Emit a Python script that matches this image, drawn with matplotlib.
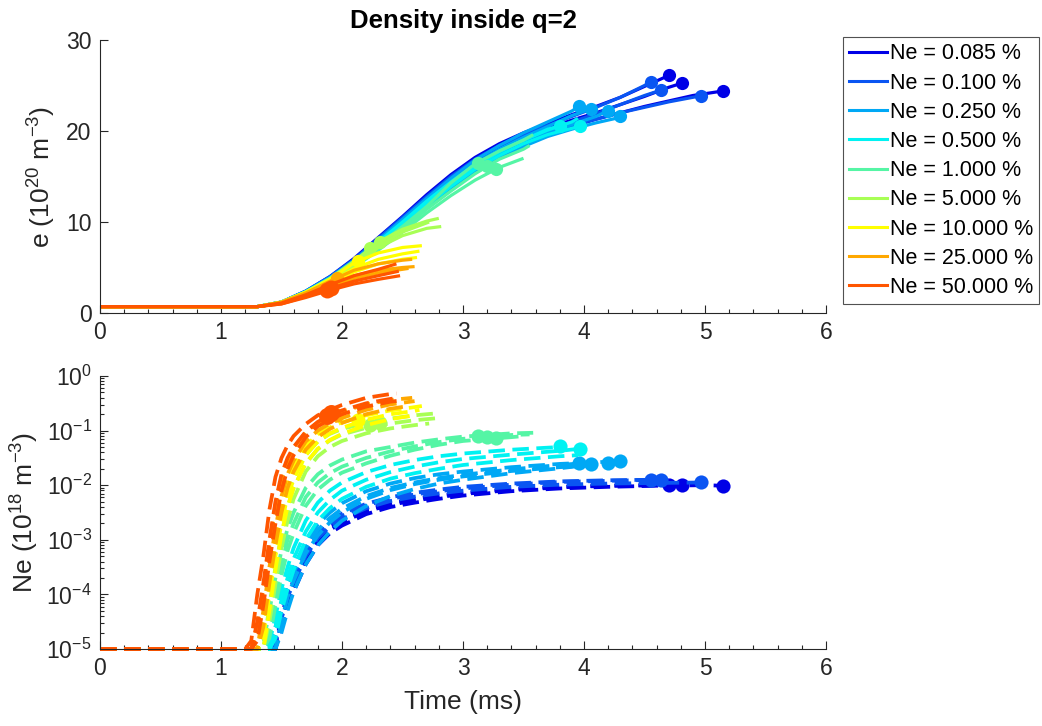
import matplotlib
matplotlib.use("Agg")
import matplotlib.pyplot as plt
from matplotlib.lines import Line2D
from matplotlib.ticker import MultipleLocator, FixedLocator, LogLocator, NullFormatter

plt.rcParams['font.family'] = ['Liberation Sans', 'DejaVu Sans']
plt.rcParams['mathtext.fontset'] = 'custom'
plt.rcParams['mathtext.rm'] = 'Liberation Sans'
plt.rcParams['mathtext.it'] = 'Liberation Sans:italic'
plt.rcParams['mathtext.bf'] = 'Liberation Sans:bold'

# ---------------------------------------------------------------- data
LABELS = ["Ne = 0.085 %", "Ne = 0.100 %", "Ne = 0.250 %", "Ne = 0.500 %",
          "Ne = 1.000 %", "Ne = 5.000 %", "Ne = 10.000 %", "Ne = 25.000 %",
          "Ne = 50.000 %"]
COLORS = ["#0000E6", "#0A55F2", "#00A8F5", "#00F2F2", "#55F5A5",
          "#A8FF55", "#FFFF00", "#FFA800", "#FF5500"]

# time grids (ms) for electron density (top) and neon density (bottom)
T_E = [0.0, 1.3, 1.5, 1.7, 1.9, 2.1, 2.3, 2.5, 2.7, 2.9, 3.1, 3.3, 3.5, 3.7,
       3.9, 4.1, 4.3, 4.5, 4.7, 4.9, 5.1]
T_N = [0.0, 1.2, 1.25, 1.3, 1.35, 1.4, 1.45, 1.5, 1.55, 1.6, 1.7, 1.8, 1.9,
       2.0, 2.2, 2.4, 2.6, 2.8, 3.0, 3.4, 3.8, 4.2, 4.6, 5.0]

# ---- Ne = 0.085 %
G085_T_END = [5.16, 4.82, 4.72]
G085_E = [[0.7, 0.7, 1.1, 2.1, 3.5, 5.3, 7.4, 9.6, 11.9, 14.1, 16.0, 17.5, 18.7, 19.7, 20.5, 21.3, 22.0, 22.7, 23.3, 23.9, 24.3],
          [0.7, 0.7, 1.1, 2.2, 3.7, 5.6, 7.8, 10.1, 12.5, 14.7, 16.6, 18.1, 19.3, 20.3, 21.2, 22.0, 22.9, 23.8, 24.8],
          [0.7, 0.7, 1.2, 2.4, 4.0, 6.0, 8.3, 10.6, 13.0, 15.2, 17.1, 18.6, 19.8, 20.8, 21.8, 22.7, 23.7, 24.9, 26.1]]
G085_E_END = [24.4, 25.3, 26.3]
G085_N = [[-5, -5, -5, -5, -5, -5, -5, -4.6, -4.2, -3.95, -3.45, -3.1, -2.88, -2.74, -2.53, -2.40, -2.32, -2.25, -2.19, -2.11, -2.06, -2.03, -2.01, -2.0],
          [-5, -5, -5, -5, -5, -5, -5, -4.5, -4.1, -3.85, -3.37, -3.03, -2.82, -2.68, -2.48, -2.36, -2.28, -2.22, -2.16, -2.09, -2.04, -2.01, -2.0],
          [-5, -5, -5, -5, -5, -5, -4.95, -4.4, -4.0, -3.75, -3.3, -2.97, -2.77, -2.64, -2.45, -2.33, -2.25, -2.19, -2.14, -2.07, -2.03, -2.01, -2.0]]
G085_N_END = [-2.01, -2.0, -2.0]
G085_MK_T = [5.15, 4.81, 4.70]
G085_MK_E = [24.4, 25.3, 26.2]
G085_MK_N = [-2.01, -2.0, -2.0]

# ---- Ne = 0.100 %
G100_T_END = [4.98, 4.66, 4.57]
G100_E = [[0.7, 0.7, 1.1, 2.2, 3.6, 5.4, 7.5, 9.7, 12.0, 14.2, 16.1, 17.6, 18.8, 19.8, 20.6, 21.3, 22.0, 22.6, 23.2, 23.7],
          [0.7, 0.7, 1.1, 2.3, 3.8, 5.7, 7.9, 10.2, 12.5, 14.6, 16.4, 17.9, 19.1, 20.1, 21.0, 21.9, 22.9, 23.9],
          [0.7, 0.7, 1.2, 2.4, 4.0, 5.9, 8.2, 10.5, 12.8, 15.0, 16.9, 18.4, 19.6, 20.6, 21.6, 22.6, 23.7, 25.0]]
G100_E_END = [23.9, 24.6, 25.6]
G100_N = [[-5, -5, -5, -5, -5, -5, -4.9, -4.45, -4.05, -3.8, -3.3, -2.97, -2.76, -2.62, -2.42, -2.29, -2.21, -2.15, -2.10, -2.03, -1.99, -1.97, -1.96],
          [-5, -5, -5, -5, -5, -5, -4.85, -4.35, -3.95, -3.7, -3.22, -2.9, -2.7, -2.56, -2.37, -2.25, -2.17, -2.11, -2.06, -1.99, -1.94, -1.92, -1.90],
          [-5, -5, -5, -5, -5, -5, -4.8, -4.3, -3.9, -3.65, -3.18, -2.85, -2.65, -2.52, -2.34, -2.22, -2.14, -2.08, -2.03, -1.97, -1.93, -1.91]]
G100_N_END = [-1.95, -1.9, -1.9]
G100_MK_T = [4.97, 4.64, 4.55]
G100_MK_E = [23.8, 24.5, 25.4]
G100_MK_N = [-1.95, -1.9, -1.9]

# ---- Ne = 0.250 %
G250_T_END = [4.31, 4.21, 4.07, 3.97]
G250_E = [[0.7, 0.7, 1.1, 2.1, 3.5, 5.2, 7.2, 9.3, 11.5, 13.6, 15.5, 17.0, 18.3, 19.4, 20.2, 20.9, 21.5],
          [0.7, 0.7, 1.1, 2.2, 3.6, 5.4, 7.5, 9.7, 11.9, 14.0, 15.9, 17.4, 18.7, 19.8, 20.7, 21.6],
          [0.7, 0.7, 1.2, 2.3, 3.8, 5.6, 7.8, 10.0, 12.3, 14.5, 16.4, 18.0, 19.3, 20.5, 21.7],
          [0.7, 0.7, 1.2, 2.4, 3.9, 5.8, 8.0, 10.3, 12.6, 14.8, 16.8, 18.4, 19.8, 21.0, 22.2]]
G250_E_END = [21.7, 22.3, 22.5, 22.8]
G250_N = [[-5, -5, -5, -5, -5, -5, -4.6, -4.15, -3.8, -3.5, -3.05, -2.72, -2.5, -2.33, -2.11, -1.97, -1.87, -1.80, -1.75, -1.67, -1.61, -1.57],
          [-5, -5, -5, -5, -5, -5, -5, -4.5, -4.05, -3.75, -3.25, -2.92, -2.68, -2.5, -2.25, -2.09, -1.98, -1.90, -1.84, -1.74, -1.67, -1.62],
          [-5, -5, -5, -5, -5, -5, -5, -4.7, -4.3, -3.95, -3.45, -3.1, -2.85, -2.65, -2.38, -2.2, -2.07, -1.97, -1.9, -1.78, -1.69],
          [-5, -5, -5, -5, -5, -5, -4.7, -4.25, -3.9, -3.6, -3.15, -2.82, -2.6, -2.43, -2.2, -2.05, -1.95, -1.87, -1.81, -1.71, -1.63]]
G250_N_END = [-1.56, -1.6, -1.62, -1.6]
G250_MK_T = [4.30, 4.20, 4.06, 3.96]
G250_MK_E = [21.6, 22.2, 22.4, 22.8]
G250_MK_N = [-1.56, -1.6, -1.61, -1.6]

# ---- Ne = 0.500 %
G500_T_END = [3.98, 3.81, 3.95]
G500_E = [[0.7, 0.7, 1.1, 2.2, 3.6, 5.3, 7.4, 9.6, 11.8, 13.9, 15.8, 17.3, 18.6, 19.6, 20.3],
          [0.7, 0.7, 1.2, 2.3, 3.8, 5.6, 7.8, 10.0, 12.3, 14.4, 16.3, 17.8, 19.0, 20.2],
          [0.7, 0.7, 1.2, 2.3, 3.7, 5.5, 7.6, 9.8, 12.1, 14.2, 16.1, 17.7, 19.0, 20.1, 21.0]]
G500_E_END = [20.6, 20.6, 21.4]
G500_N = [[-5, -5, -5, -5, -5, -5, -4.6, -4.1, -3.7, -3.35, -2.85, -2.5, -2.27, -2.1, -1.90, -1.76, -1.66, -1.58, -1.52, -1.44, -1.37],
          [-5, -5, -5, -5, -5, -4.9, -4.4, -3.9, -3.5, -3.15, -2.65, -2.32, -2.1, -1.95, -1.76, -1.63, -1.54, -1.47, -1.42, -1.35, -1.30],
          [-5, -5, -5, -5, -5, -5, -4.8, -4.3, -3.9, -3.55, -3.0, -2.65, -2.42, -2.25, -2.03, -1.88, -1.78, -1.70, -1.63, -1.54, -1.47]]
G500_N_END = [-1.33, -1.29, -1.45]
G500_MK_T = [3.97, 3.80]
G500_MK_E = [20.5, 20.6]
G500_MK_N = [-1.33, -1.29]

# ---- Ne = 1.000 %
G1K_T_END = [3.58, 3.55, 3.50]
G1K_E = [[0.7, 0.7, 1.2, 2.3, 3.7, 5.4, 7.4, 9.5, 11.7, 14.3, 16.4, 17.8, 19.0],
         [0.7, 0.7, 1.1, 2.2, 3.5, 5.2, 7.1, 9.2, 11.4, 13.4, 15.3, 16.9, 18.0],
         [0.7, 0.7, 1.1, 2.1, 3.4, 5.0, 6.9, 8.9, 11.0, 12.9, 14.6, 16.0]]
G1K_E_END = [19.6, 18.4, 17.0]
G1K_N = [[-5, -5, -5, -5, -4.9, -4.3, -3.7, -3.2, -2.8, -2.5, -2.05, -1.8, -1.64, -1.53, -1.38, -1.30, -1.22, -1.16, -1.11, -1.05],
         [-5, -5, -5, -5, -5, -4.6, -4.0, -3.45, -3.0, -2.7, -2.22, -1.95, -1.78, -1.66, -1.50, -1.38, -1.29, -1.21, -1.15, -1.08],
         [-5, -5, -5, -5, -5, -4.8, -4.2, -3.65, -3.2, -2.88, -2.38, -2.08, -1.90, -1.77, -1.60, -1.46, -1.35, -1.26, -1.19, -1.12]]
G1K_N_END = [-1.04, -1.07, -1.10]
G1K_MK_T = [3.12, 3.20, 3.27]
G1K_MK_E = [16.5, 16.1, 15.8]
G1K_MK_N = [-1.09, -1.11, -1.13]

# ---- Ne = 5.000 %
G5K_T_END = [2.80, 2.82, 2.72]
G5K_E = [[0.7, 0.7, 1.2, 2.3, 3.8, 5.7, 7.8, 9.2, 10.1],
         [0.7, 0.7, 1.1, 2.2, 3.6, 5.3, 7.2, 8.5, 9.3],
         [0.7, 0.7, 1.1, 2.2, 3.6, 5.4, 7.4, 8.9, 9.9]]
G5K_E_END = [10.4, 9.5, 10.0]
G5K_N = [[-5, -5, -5, -5, -4.7, -3.9, -3.2, -2.6, -2.15, -1.85, -1.45, -1.2, -1.06, -0.97, -0.86, -0.78, -0.72],
         [-5, -5, -5, -5, -5, -4.2, -3.5, -2.9, -2.4, -2.05, -1.6, -1.34, -1.18, -1.07, -0.95, -0.87, -0.81, -0.77],
         [-5, -5, -5, -5, -5, -4.5, -3.8, -3.15, -2.65, -2.25, -1.75, -1.47, -1.30, -1.19, -1.05, -0.96, -0.90]]
G5K_N_END = [-0.68, -0.76, -0.87]
G5K_MK_T = [2.23, 2.31]
G5K_MK_E = [7.1, 7.8]
G5K_MK_N = [-0.90, -0.86]

# ---- Ne = 10.000 %
G10K_T_END = [2.66, 2.64, 2.62]
G10K_E = [[0.7, 0.7, 1.2, 2.3, 3.7, 5.5, 6.6, 7.2],
          [0.7, 0.7, 1.1, 2.1, 3.4, 4.9, 5.9, 6.5],
          [0.7, 0.7, 1.1, 2.0, 3.2, 4.5, 5.4, 5.9]]
G10K_E_END = [7.4, 6.8, 6.1]
G10K_N = [[-5, -5, -5, -5, -4.5, -3.7, -3.0, -2.4, -1.95, -1.65, -1.28, -1.07, -0.94, -0.85, -0.72, -0.63, -0.57],
          [-5, -5, -5, -5, -4.8, -4.0, -3.3, -2.7, -2.2, -1.9, -1.45, -1.2, -1.05, -0.95, -0.80, -0.70, -0.64],
          [-5, -5, -5, -5, -5, -4.3, -3.55, -2.9, -2.4, -2.05, -1.6, -1.33, -1.17, -1.06, -0.90, -0.79, -0.72]]
G10K_N_END = [-0.55, -0.62, -0.70]
G10K_MK_T = [2.13]
G10K_MK_E = [5.7]
G10K_MK_N = [-0.81]

# ---- Ne = 25.000 %
G25K_T_END = [2.58, 2.60, 2.55]
G25K_E = [[0.7, 0.7, 1.2, 2.2, 3.5, 4.7, 5.4, 5.8],
          [0.7, 0.7, 1.1, 2.0, 3.1, 4.1, 4.7, 5.0],
          [0.7, 0.7, 1.1, 1.9, 2.9, 3.8, 4.4, 4.8]]
G25K_E_END = [5.9, 5.1, 4.9]
G25K_N = [[-5, -5, -5, -4.6, -3.9, -3.1, -2.4, -1.9, -1.55, -1.32, -1.03, -0.85, -0.74, -0.65, -0.52, -0.44],
          [-5, -5, -5, -5, -4.3, -3.5, -2.8, -2.2, -1.8, -1.55, -1.2, -1.0, -0.87, -0.77, -0.62, -0.52],
          [-5, -5, -5, -5, -4.6, -3.8, -3.1, -2.5, -2.05, -1.75, -1.35, -1.12, -0.97, -0.86, -0.70, -0.60]]
G25K_N_END = [-0.40, -0.46, -0.55]
G25K_MK_T = [1.96]
G25K_MK_E = [3.85]
G25K_MK_N = [-0.72]

# ---- Ne = 50.000 %
G50K_T_END = [2.45, 2.47, 2.48]
G50K_E = [[0.7, 0.7, 1.1, 2.0, 3.1, 4.1, 4.8],
          [0.7, 0.7, 1.0, 1.8, 2.7, 3.5, 4.1],
          [0.7, 0.7, 1.0, 1.7, 2.5, 3.2, 3.7]]
G50K_E_END = [5.4, 4.6, 4.1]
G50K_N = [[-5, -5, -4.85, -4.0, -3.3, -2.45, -1.85, -1.5, -1.27, -1.1, -0.88, -0.72, -0.62, -0.53, -0.40, -0.33],
          [-5, -5, -5, -4.5, -3.8, -3.0, -2.3, -1.8, -1.5, -1.3, -1.02, -0.84, -0.72, -0.63, -0.50, -0.42],
          [-5, -5, -5, -4.85, -4.2, -3.4, -2.7, -2.1, -1.7, -1.45, -1.12, -0.92, -0.80, -0.70, -0.56, -0.47]]
G50K_N_END = [-0.32, -0.40, -0.45]
G50K_MK_T = [1.88, 1.91]
G50K_MK_E = [2.5, 2.8]
G50K_MK_N = [-0.74, -0.68]

GROUPS = [
    (G085_T_END, G085_E, G085_E_END, G085_N, G085_N_END, G085_MK_T, G085_MK_E, G085_MK_N),
    (G100_T_END, G100_E, G100_E_END, G100_N, G100_N_END, G100_MK_T, G100_MK_E, G100_MK_N),
    (G250_T_END, G250_E, G250_E_END, G250_N, G250_N_END, G250_MK_T, G250_MK_E, G250_MK_N),
    (G500_T_END, G500_E, G500_E_END, G500_N, G500_N_END, G500_MK_T, G500_MK_E, G500_MK_N),
    (G1K_T_END, G1K_E, G1K_E_END, G1K_N, G1K_N_END, G1K_MK_T, G1K_MK_E, G1K_MK_N),
    (G5K_T_END, G5K_E, G5K_E_END, G5K_N, G5K_N_END, G5K_MK_T, G5K_MK_E, G5K_MK_N),
    (G10K_T_END, G10K_E, G10K_E_END, G10K_N, G10K_N_END, G10K_MK_T, G10K_MK_E, G10K_MK_N),
    (G25K_T_END, G25K_E, G25K_E_END, G25K_N, G25K_N_END, G25K_MK_T, G25K_MK_E, G25K_MK_N),
    (G50K_T_END, G50K_E, G50K_E_END, G50K_N, G50K_N_END, G50K_MK_T, G50K_MK_E, G50K_MK_N),
]


def trace(grid, values, t_end, v_end):
    """Knots before the end time, followed by the end point."""
    ts = [t for t, _ in zip(grid, values) if t < t_end]
    vs = list(values[:len(ts)])
    return ts + [t_end], vs + [v_end]


# ---------------------------------------------------------------- figure
W, H = 1042, 726
fig = plt.figure(figsize=(W / 100, H / 100), dpi=100)
ax1 = fig.add_axes([100 / W, 1 - 313 / H, 726 / W, 273 / H])
ax2 = fig.add_axes([100 / W, 1 - 649 / H, 726 / W, 273 / H])

AX_COLOR = "#262626"
LW_TOP = 2.3
LW_BOT = 2.7
TICK_FS = 16.5
LABEL_FS = 19

for color, (t_end, e_runs, e_end, n_runs, n_end, mk_t, mk_e, mk_n) in zip(COLORS, GROUPS):
    for k in range(len(t_end)):
        ts, vs = trace(T_E, e_runs[k], t_end[k], e_end[k])
        ax1.plot(ts, vs, color=color, lw=LW_TOP, solid_capstyle='butt')
        ts, vs = trace(T_N, n_runs[k], t_end[k], n_end[k])
        ax2.plot(ts, [10.0 ** v for v in vs], color=color, lw=LW_BOT,
                 linestyle=(0, (4.4, 2.0)), clip_on=False)
    ms = 11.5 if color == COLORS[-1] else 9.5
    ax1.plot(mk_t, mk_e, 'o', color=color, ms=ms, mec='none')
    ax2.plot(mk_t, [10.0 ** v for v in mk_n], 'o', color=color, ms=ms + 0.7, mec='none')

for ax in (ax1, ax2):
    ax.set_xlim(0, 6)
    ax.xaxis.set_major_locator(MultipleLocator(1))
    ax.xaxis.set_minor_locator(MultipleLocator(0.2))
    for side in ('top', 'right'):
        ax.spines[side].set_visible(False)
    for side in ('left', 'bottom'):
        ax.spines[side].set_color(AX_COLOR)
        ax.spines[side].set_linewidth(0.8)
    ax.tick_params(which='both', direction='in', color=AX_COLOR,
                   labelcolor=AX_COLOR, labelsize=TICK_FS, width=0.8)
    ax.tick_params(which='major', length=6, pad=6)
    ax.tick_params(which='minor', length=3)

ax1.set_ylim(0, 30)
ax1.yaxis.set_major_locator(MultipleLocator(10))
ax1.set_ylabel(r'e (10$^{20}$ m$^{-3}$)', fontsize=LABEL_FS, color=AX_COLOR, labelpad=6)
ax1.set_title('Density inside q=2', fontsize=18.5, fontweight='bold', pad=9)

ax2.set_yscale('log')
ax2.set_ylim(1e-5, 1)
ax2.yaxis.set_major_locator(FixedLocator([1e-5, 1e-4, 1e-3, 1e-2, 1e-1, 1]))
ax2.set_yticklabels([r'$10^{-5}$', r'$10^{-4}$', r'$10^{-3}$', r'$10^{-2}$',
                     r'$10^{-1}$', r'$10^{0}$'])
ax2.yaxis.set_minor_locator(LogLocator(base=10, subs=range(2, 10), numticks=20))
ax2.yaxis.set_minor_formatter(NullFormatter())
ax2.set_ylabel(r'Ne (10$^{18}$ m$^{-3}$)', fontsize=LABEL_FS, color=AX_COLOR, labelpad=4)
ax2.set_xlabel('Time (ms)', fontsize=LABEL_FS, color=AX_COLOR, labelpad=7)

handles = [Line2D([], [], color=c, lw=2.2) for c in COLORS]
leg = fig.legend(handles, LABELS, loc='upper left',
                 bbox_to_anchor=(843 / W, 1 - 37 / H), borderaxespad=0,
                 fontsize=15.5, frameon=True, fancybox=False, handlelength=1.75,
                 handletextpad=0.12, labelspacing=0.38, borderpad=0.3)
leg.get_frame().set_edgecolor(AX_COLOR)
leg.get_frame().set_linewidth(0.8)

fig.savefig('out.png', dpi=100)
